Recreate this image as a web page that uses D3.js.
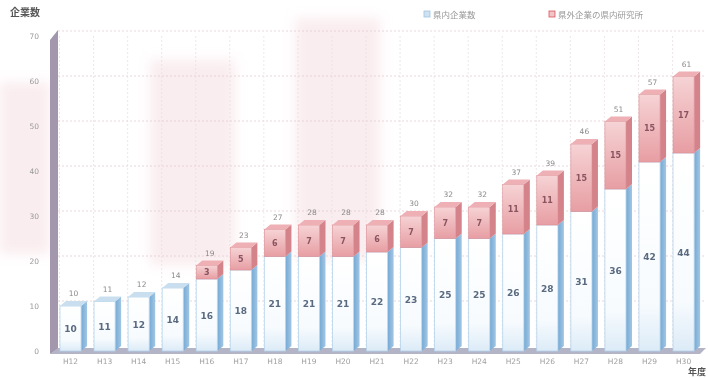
<!DOCTYPE html>
<html><head><meta charset="utf-8">
<script src="https://cdn.jsdelivr.net/npm/d3@7"></script>
<style>body{margin:0;background:#fff;}svg{display:block;font-family:"Noto Sans CJK JP","Noto Sans",sans-serif;}</style>
</head><body>
<svg id="c" width="708" height="378"></svg>
<script>
const years = ["H12","H13","H14","H15","H16","H17","H18","H19","H20","H21","H22","H23","H24","H25","H26","H27","H28","H29","H30"];
const inPref = [10,11,12,14,16,18,21,21,21,22,23,25,25,26,28,31,36,42,44];
const outPref = [0,0,0,0,3,5,6,7,7,6,7,7,7,11,11,15,15,15,17];
const yTicks = [0,10,20,30,40,50,60,70];
const seriesNames = ["県内企業数","県外企業の県内研究所"];

const svg = d3.select("#c");
const x = d3.scaleBand().domain(years).range([53.5,700.6]).paddingInner(0.38).paddingOuter(0.19);
const y = d3.scaleLinear().domain([0,70]).range([351,36]);
const bw = x.bandwidth(), dx = 6, dy = -5;

const defs = svg.append("defs");
const rg = defs.append("linearGradient").attr("id","rg").attr("x1",0).attr("y1",0).attr("x2",0).attr("y2",1);
rg.append("stop").attr("offset",0).attr("stop-color","#f6d3d5");
rg.append("stop").attr("offset",1).attr("stop-color","#e79ea3");
const bg = defs.append("linearGradient").attr("id","bg").attr("x1",0).attr("y1",0).attr("x2",0).attr("y2",1);
bg.append("stop").attr("offset",0).attr("stop-color","#ffffff");
bg.append("stop").attr("offset",0.75).attr("stop-color","#f7fbfe");
bg.append("stop").attr("offset",1).attr("stop-color","#dcebf7");
const bs = defs.append("linearGradient").attr("id","bs").attr("x1",0).attr("y1",0).attr("x2",1).attr("y2",0);
bs.append("stop").attr("offset",0).attr("stop-color","#75a9d4");
bs.append("stop").attr("offset",1).attr("stop-color","#a2c6e4");
defs.append("filter").attr("id","blur").attr("x","-20%").attr("y","-20%").attr("width","140%").attr("height","140%")
  .append("feGaussianBlur").attr("stdDeviation",6);

// faint background patches (scan tint)
const patches = [[0,82,50,172],[150,60,85,205],[295,18,85,242]];
svg.append("g").attr("filter","url(#blur)").selectAll("rect").data(patches).join("rect")
  .attr("x",d=>d[0]).attr("y",d=>d[1]).attr("width",d=>d[2]).attr("height",d=>d[3])
  .attr("fill","#f2ccd2").attr("opacity",0.35);

// gridlines
svg.append("g").selectAll("line").data(yTicks.slice(1)).join("line")
  .attr("x1",58).attr("x2",704).attr("y1",d=>y(d)+dy).attr("y2",d=>y(d)+dy)
  .attr("stroke","#e2cdd2").attr("stroke-width",0.8).attr("stroke-dasharray","2,2");
svg.append("g").selectAll("line").data(years).join("line")
  .attr("x1",d=>x(d)-x.step()*0.19+dx).attr("x2",d=>x(d)-x.step()*0.19+dx)
  .attr("y1",36).attr("y2",346)
  .attr("stroke","#e6dde0").attr("stroke-width",0.7).attr("stroke-dasharray","2,2");

// left wall
svg.append("polygon").attr("points",`50,${y(70)+4} 58,${y(70)-6} 58,${y(0)-2} 50,${y(0)+3}`).attr("fill","#a297ad");
// floor
svg.append("polygon").attr("points",`50,${y(0)+3} 58,${y(0)-3} 706,${y(0)-3} 700,${y(0)+3}`).attr("fill","#b3b4c6");

// y axis
const ya = svg.append("g").attr("transform","translate(39,0)")
  .call(d3.axisLeft(y).tickValues(yTicks).tickSize(0).tickPadding(0));
ya.select(".domain").remove();
ya.selectAll("text").attr("fill","#9a9a9a").attr("font-size",7.5).attr("font-family","DejaVu Sans");

const data = years.map((k,i)=>({k, a:inPref[i], b:outPref[i], t:inPref[i]+outPref[i]}));
const g = svg.append("g").selectAll("g").data(data).join("g");

const poly = (pts)=>pts.map(p=>p.join(",")).join(" ");
// blue side
g.append("polygon").attr("points",d=>{const x0=x(d.k)+bw;return poly([[x0,y(d.a)],[x0+dx,y(d.a)+dy],[x0+dx,y(0)+dy],[x0,y(0)]]);})
  .attr("fill","url(#bs)");
// blue front
g.append("rect").attr("x",d=>x(d.k)).attr("y",d=>y(d.a)).attr("width",bw).attr("height",d=>y(0)-y(d.a))
  .attr("fill","url(#bg)").attr("stroke","#b5d3ea").attr("stroke-width",0.8);
// blue top when no red
g.filter(d=>d.b===0).append("polygon").attr("points",d=>{const x0=x(d.k),yy=y(d.a);return poly([[x0,yy],[x0+dx,yy+dy],[x0+bw+dx,yy+dy],[x0+bw,yy]]);})
  .attr("fill","#c9dff0");
// red parts
const r = g.filter(d=>d.b>0);
r.append("polygon").attr("points",d=>{const x0=x(d.k)+bw;return poly([[x0,y(d.t)],[x0+dx,y(d.t)+dy],[x0+dx,y(d.a)+dy],[x0,y(d.a)]]);})
  .attr("fill","#d5838b");
r.append("rect").attr("x",d=>x(d.k)).attr("y",d=>y(d.t)).attr("width",bw).attr("height",d=>y(d.a)-y(d.t))
  .attr("fill","url(#rg)").attr("stroke","#d98d93").attr("stroke-width",0.6);
r.append("polygon").attr("points",d=>{const x0=x(d.k),yy=y(d.t);return poly([[x0,yy],[x0+dx,yy+dy],[x0+bw+dx,yy+dy],[x0+bw,yy]]);})
  .attr("fill","#eeb0b4");

// labels
g.append("text").attr("x",d=>x(d.k)+bw/2).attr("y",d=>(y(d.a)+y(0))/2+3.5).attr("text-anchor","middle")
  .attr("font-size",9).attr("font-weight","bold").attr("fill","#5a6a80").attr("font-family","DejaVu Sans").text(d=>d.a);
r.append("text").attr("x",d=>x(d.k)+bw/2).attr("y",d=>(y(d.a)+y(d.t))/2+3).attr("text-anchor","middle")
  .attr("font-size",8).attr("font-weight","bold").attr("fill","#8a5560").attr("font-family","DejaVu Sans").text(d=>d.b);
g.append("text").attr("x",d=>x(d.k)+bw/2+dx/2).attr("y",d=>y(d.t)+dy-5).attr("text-anchor","middle")
  .attr("font-size",7.5).attr("fill","#8a8a8a").attr("font-family","DejaVu Sans").text(d=>d.t);

// x axis labels
const xa = svg.append("g").attr("transform",`translate(0,${y(0)+4})`).call(d3.axisBottom(x).tickSize(0).tickPadding(4));
xa.select(".domain").remove();
xa.selectAll("text").attr("fill","#a0a0a0").attr("font-size",7.5).attr("font-family","DejaVu Sans");

// titles
svg.append("text").attr("x",10).attr("y",16).attr("font-size",10).attr("font-weight","bold").attr("fill","#555").text("企業数");
svg.append("text").attr("x",688).attr("y",375).attr("font-size",9).attr("font-weight","bold").attr("fill","#555").text("年度");

// legend
const lg = svg.append("g");
const legItems = [{n:seriesNames[0],c:"#cfe2f2",s:"#9fc3e0",x:424},{n:seriesNames[1],c:"#f1c4c7",s:"#d9535d",x:549}];
lg.selectAll("rect").data(legItems).join("rect").attr("x",d=>d.x).attr("y",11).attr("width",6).attr("height",6)
  .attr("fill",d=>d.c).attr("stroke",d=>d.s).attr("stroke-width",0.8);
lg.selectAll("text").data(legItems).join("text").attr("x",d=>d.x+9).attr("y",17.5).attr("font-size",8.5).attr("fill","#999").text(d=>d.n);
</script>
</body></html>
